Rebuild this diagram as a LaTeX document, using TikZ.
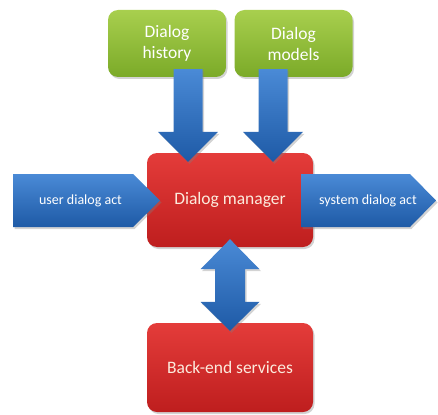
\documentclass[tikz,border=0pt]{standalone}
\usepackage{fontspec}
\setmainfont{Carlito}
\usetikzlibrary{shadows,calc}
\definecolor{gtop}{HTML}{A8CF4E}
\definecolor{gbot}{HTML}{7BAA28}
\definecolor{rtop}{HTML}{E43C3A}
\definecolor{rbot}{HTML}{BE1E1E}
\definecolor{btop}{HTML}{4A8AD6}
\definecolor{bbot}{HTML}{1E5AA6}
\definecolor{cream}{HTML}{FCEBDD}
\begin{document}
\begin{tikzpicture}[x=1pt,y=-1pt,
  shad/.style={drop shadow={opacity=0.35,shadow xshift=1.5pt,shadow yshift=-2pt}},
  box/.style={rounded corners=10pt, draw=none, shad, align=center, inner sep=0pt},
  greenbox/.style={box, top color=gtop, bottom color=gbot, text=white,
    minimum width=118pt, minimum height=67pt, font=\fontsize{17.5}{21}\selectfont},
  redbox/.style={box, top color=rtop, bottom color=rbot, text=cream,
    minimum width=166pt, font=\fontsize{17.5}{21}\selectfont},
  acttext/.style={text=white, inner sep=0pt, font=\fontsize{14}{16}\selectfont},
  blockarrow/.style={top color=btop, bottom color=bbot, draw=none, shad}
]
\useasboundingbox (0,0) rectangle (438,414);

\node[greenbox] (hist) at (167,43.5) {Dialog\\history};
\node[greenbox] (models) at (293.5,43.5) {Dialog\\models};
\node[redbox, minimum height=94pt] (dm) at (230,200) {Dialog manager};
\node[redbox, minimum height=89pt] (be) at (230,367.5) {Back-end services};

% down arrows into the manager
\coordinate (h1) at ($(hist.south)+(20.5,-8)$);
\coordinate (h2) at ($(dm.north)+(-42,9)$);
\coordinate (m1) at ($(models.south)+(-20.5,-8)$);
\coordinate (m2) at ($(dm.north)+(43,9)$);
\path[blockarrow] let \p1=(h1), \p2=(h2) in
  (\x2-14.5pt,\y1) -- (\x2-14.5pt,\y2+30pt) -- (\x2-30pt,\y2+30pt) -- (\x2,\y2)
  -- (\x2+30pt,\y2+30pt) -- (\x2+14.5pt,\y2+30pt) -- (\x2+14.5pt,\y1) -- cycle;
\path[blockarrow] let \p1=(m1), \p2=(m2) in
  (\x2-14.5pt,\y1) -- (\x2-14.5pt,\y2+30pt) -- (\x2-30pt,\y2+30pt) -- (\x2,\y2)
  -- (\x2+30pt,\y2+30pt) -- (\x2+14.5pt,\y2+30pt) -- (\x2+14.5pt,\y1) -- cycle;

% double arrow between manager and back-end
\coordinate (d1) at ($(dm.south)+(0,-8)$);
\coordinate (d2) at ($(be.north)+(0,8)$);
\path[blockarrow] let \p1=(d1), \p2=(d2) in
  (\x1,\y1) -- (\x1+29.5pt,\y1-30pt) -- (\x1+15pt,\y1-30pt) -- (\x1+15pt,\y2+29pt)
  -- (\x1+29.5pt,\y2+29pt) -- (\x2,\y2) -- (\x1-29.5pt,\y2+29pt) -- (\x1-15pt,\y2+29pt)
  -- (\x1-15pt,\y1-30pt) -- (\x1-29.5pt,\y1-30pt) -- cycle;

% dialog act arrows
\coordinate (uc) at (13,200.5);
\path[blockarrow] (uc) ++(0,-26.5) -- ++(120,0) -- ++(27,26.5) -- ++(-27,26.5) -- ++(-120,0) -- cycle;
\node[acttext] (uda) at ($(uc)+(67.5,0)$) {user dialog act};
\coordinate (sc) at (301,200.5);
\path[blockarrow] (sc) ++(0,-26.5) -- ++(109,0) -- ++(26,26.5) -- ++(-26,26.5) -- ++(-109,0) -- cycle;
\node[acttext] (sda) at ($(sc)+(67,0)$) {system dialog act};
\end{tikzpicture}
\end{document}
